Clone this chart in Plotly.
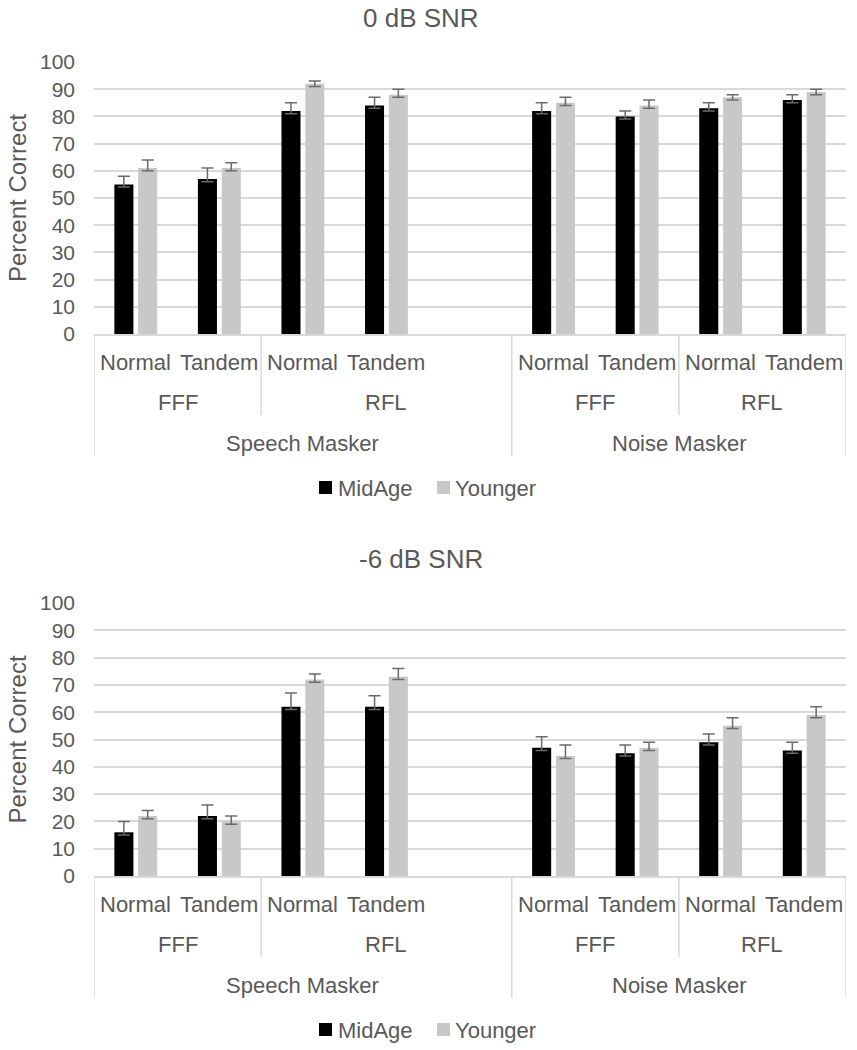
import plotly.graph_objects as go

# ---------------- data ----------------
maskers = ["Speech Masker", "Speech Masker", "Speech Masker", "Speech Masker", "Speech Masker",
           "Noise Masker", "Noise Masker", "Noise Masker", "Noise Masker"]
conditions = ["FFF", "FFF", "RFL", "RFL", "RFL", "FFF", "FFF", "RFL", "RFL"]
stances = ["Normal", "Tandem", "Normal", "Tandem", "", "Normal", "Tandem", "Normal", "Tandem"]

series_names = ["MidAge", "Younger"]
series_colors = ["#000000", "#c8c8c8"]

panel_titles = ["0 dB SNR", "-6 dB SNR"]

midage_0 = [55, 57, 82, 84, None, 82, 80, 83, 86]
midage_0_plus = [3, 4, 3, 3, None, 3, 2, 2, 2]
midage_0_minus = [1, 1, 1, 1, None, 1, 1, 1, 1]
younger_0 = [61, 61, 92, 88, None, 85, 84, 87, 89]
younger_0_plus = [3, 2, 1, 2, None, 2, 2, 1, 1]
younger_0_minus = [1, 1, 1, 1, None, 1, 1, 1, 1]

midage_6 = [16, 22, 62, 62, None, 47, 45, 49, 46]
midage_6_plus = [4, 4, 5, 4, None, 4, 3, 3, 3]
midage_6_minus = [1, 1, 1, 1, None, 1, 1, 1, 1]
younger_6 = [22, 20, 72, 73, None, 44, 47, 55, 59]
younger_6_plus = [2, 2, 2, 3, None, 4, 2, 3, 3]
younger_6_minus = [1, 1, 1, 1, None, 1, 1, 1, 1]

y_ticks = [0, 10, 20, 30, 40, 50, 60, 70, 80, 90, 100]
y_title = "Percent Correct"

panels = [
    [(midage_0, midage_0_plus, midage_0_minus), (younger_0, younger_0_plus, younger_0_minus)],
    [(midage_6, midage_6_plus, midage_6_minus), (younger_6, younger_6_plus, younger_6_minus)],
]

# ---------------- layout constants ----------------
W, H = 857, 1050
ML, MR, MT, MB = 94, 11, 62, 174
PW = W - ML - MR
PH = H - MT - MB
FONT = "Arial, Liberation Sans, sans-serif"
TXT = "#595959"
GRID = "#d9d9d9"

# pixel positions (in the page) of the plot areas (top, bottom) for each panel
panel_px = [(62, 334), (603, 876)]

slots = list(range(len(stances)))

fig = go.Figure()
annotations = []
shapes = []


def px_x(px):
    return (px - ML) / PW


def px_y(py):
    return (H - MB - py) / PH


def runs(keys):
    out = []
    start = 0
    for i in range(1, len(keys) + 1):
        if i == len(keys) or keys[i] != keys[start]:
            out.append((start, i - 1, keys[start]))
            start = i
    return out


for p, (series, title, (ptop, pbot)) in enumerate(zip(panels, panel_titles, panel_px)):
    sfx = "" if p == 0 else str(p + 1)
    xa, ya = "x" + sfx, "y" + sfx
    for (vals, plus, minus), name, color in zip(series, series_names, series_colors):
        fig.add_trace(go.Bar(
            x=slots, y=vals, name=name, marker=dict(color=color, line=dict(width=0)),
            xaxis=xa, yaxis=ya, showlegend=False,
            error_y=dict(type="data", symmetric=False, array=plus, arrayminus=minus,
                         color="#6b6b6b", thickness=1.5, width=6),
        ))
    dom = [px_y(pbot), px_y(ptop)]
    fig.layout["xaxis" + sfx] = dict(
        domain=[0, 1], anchor=ya, range=[-0.5, len(slots) - 0.5],
        showticklabels=False, showgrid=False, zeroline=False,
        showline=True, linecolor=GRID, linewidth=1.5, ticks="",
    )
    fig.layout["yaxis" + sfx] = dict(
        domain=dom, anchor=xa, range=[0, 100], tickvals=y_ticks,
        showgrid=True, gridcolor=GRID, gridwidth=1.5, zeroline=False,
        showline=False, ticks="", ticklabelstandoff=18,
        tickfont=dict(family=FONT, size=21, color=TXT),
    )
    ydom = ya + " domain"

    # panel title
    annotations.append(dict(
        text=title, xref="paper", yref="paper", x=px_x(421),
        y=px_y(ptop - 44), xanchor="center", yanchor="middle",
        showarrow=False, font=dict(family=FONT, size=26, color=TXT)))
    # y-axis title
    annotations.append(dict(
        text=y_title, xref="paper", yref="paper", x=px_x(17),
        y=px_y((ptop + pbot) / 2), textangle=-90,
        xanchor="center", yanchor="middle", showarrow=False,
        font=dict(family=FONT, size=24, color=TXT)))

    # level 1 labels
    for i, s in zip(slots, stances):
        if s:
            annotations.append(dict(
                text=s, xref=xa, yref=ydom, x=i, y=0, yshift=-28,
                xanchor="center", yanchor="middle", showarrow=False,
                font=dict(family=FONT, size=22, color=TXT)))
    # level 2 labels
    lvl2 = runs(list(zip(maskers, conditions)))
    for a, b, key in lvl2:
        annotations.append(dict(
            text=key[1], xref=xa, yref=ydom, x=(a + b) / 2, y=0, yshift=-68,
            xanchor="center", yanchor="middle", showarrow=False,
            font=dict(family=FONT, size=22, color=TXT)))
    # level 3 labels
    lvl3 = runs(maskers)
    for a, b, key in lvl3:
        annotations.append(dict(
            text=key, xref=xa, yref=ydom, x=(a + b) / 2, y=0, yshift=-109,
            xanchor="center", yanchor="middle", showarrow=False,
            font=dict(family=FONT, size=22, color=TXT)))

    # separators
    long_b = {-0.5} | {b + 0.5 for a, b, k in lvl3}
    short_b = {b + 0.5 for a, b, k in lvl2} - long_b
    for xb in sorted(long_b):
        shapes.append(dict(type="line", xref=xa, yref=ydom, ysizemode="pixel", yanchor=0,
                           x0=xb, x1=xb, y0=0, y1=-122, line=dict(color=GRID, width=1.5)))
    for xb in sorted(short_b):
        shapes.append(dict(type="line", xref=xa, yref=ydom, ysizemode="pixel", yanchor=0,
                           x0=xb, x1=xb, y0=0, y1=-81, line=dict(color=GRID, width=1.5)))

    # legend (manual, Excel style)
    leg_items = [(319, 336), (437, 453)]
    for (sq_x, tx_x), name, color in zip(leg_items, series_names, series_colors):
        shapes.append(dict(type="rect", xref="paper", yref=ydom, ysizemode="pixel", yanchor=0,
                           x0=px_x(sq_x), x1=px_x(sq_x + 13), y0=-147, y1=-160,
                           fillcolor=color, line=dict(width=0)))
        annotations.append(dict(
            text=name, xref="paper", yref=ydom, x=px_x(tx_x), y=0, yshift=-154,
            xanchor="left", yanchor="middle", showarrow=False,
            font=dict(family=FONT, size=22, color=TXT)))

fig.update_layout(
    width=W, height=H,
    margin=dict(l=ML, r=MR, t=MT, b=MB),
    paper_bgcolor="white", plot_bgcolor="white",
    barmode="group", bargap=0.43, bargroupgap=0.2,
    annotations=annotations, shapes=shapes,
    showlegend=False,
    font=dict(family=FONT, color=TXT),
)

fig.write_html("out.html", config={"displayModeBar": False},
               post_script="document.body.style.margin='0';")
